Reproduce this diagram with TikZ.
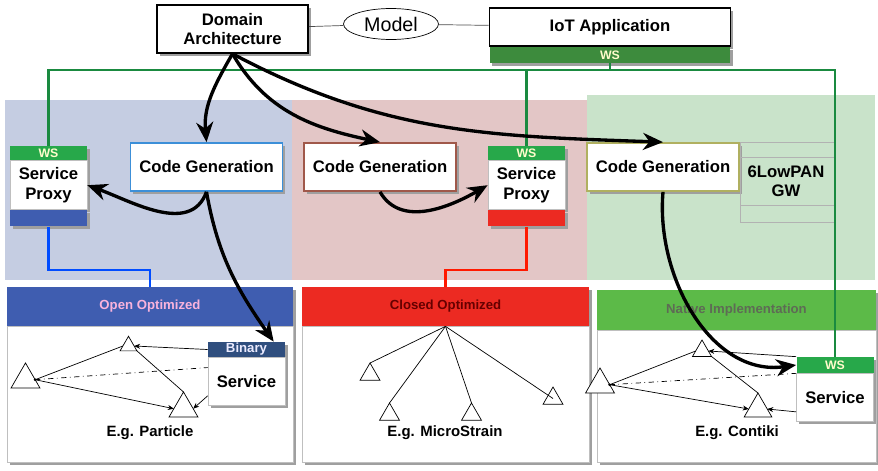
\documentclass[tikz,border=0pt]{standalone}
\usepackage{fontspec}
\setmainfont{Liberation Sans}
\usetikzlibrary{arrows.meta, positioning, shapes.geometric, shadows, calc}

\definecolor{bluebg}{HTML}{C5CDE2}
\definecolor{redbg}{HTML}{E3C6C6}
\definecolor{greenbg}{HTML}{C9E3CA}
\definecolor{openhd}{HTML}{3F5DB0}
\definecolor{closedhd}{HTML}{EC2A22}
\definecolor{nativehd}{HTML}{5CBA48}
\definecolor{nativefg}{HTML}{5E6B55}
\definecolor{wsgreen}{HTML}{27A84A}
\definecolor{iotws}{HTML}{3D8B3D}
\definecolor{busgreen}{HTML}{1A8A40}
\definecolor{binhd}{HTML}{2F4E7E}
\definecolor{cgblue}{HTML}{3C8FD8}
\definecolor{cgred}{HTML}{A0584A}
\definecolor{cgolive}{HTML}{B0B060}

\begin{document}
\begin{tikzpicture}[x=0.02cm, y=0.02cm,
        shd/.style  = {drop shadow={shadow xshift=1.5pt, shadow yshift=-1.5pt, fill=gray!75, opacity=1}},
        box/.style  = {draw, line width=0.9pt, fill=white, align=center, font=\fontsize{9.5}{11}\selectfont\bfseries, shd},
        cg/.style   = {box, line width=1pt, minimum width=3.04cm, minimum height=0.96cm},
        ws/.style   = {fill=wsgreen, text=yellow!20, font=\fontsize{7}{8}\selectfont\bfseries, minimum width=1.54cm, minimum height=0.28cm, inner sep=0pt, shd},
        sp/.style   = {fill=white, draw=gray!50, thin, minimum width=1.54cm, minimum height=0.98cm, align=center, font=\fontsize{9.5}{11}\selectfont\bfseries, shd},
        bar/.style  = {minimum width=1.54cm, minimum height=0.32cm, inner sep=0pt, shd},
        hd/.style   = {minimum height=0.78cm, inner sep=0pt, font=\fontsize{7.5}{9}\selectfont\bfseries, shd},
        pn/.style   = {fill=white, draw=gray!50, minimum height=2.72cm, shd},
        eg/.style   = {font=\fontsize{8.5}{10}\selectfont\bfseries},
        tri/.style  = {regular polygon, regular polygon sides=3, draw, thin, fill=white, inner sep=0pt, outer sep=0pt},
        gwt/.style  = {align=center, font=\fontsize{9.5}{11}\selectfont\bfseries},
        ln/.style   = {thin, -{Stealth[length=1.2mm, width=1mm]}},
        pl/.style   = {thin},
        dd/.style   = {thin, dash dot},
        big/.style  = {line width=1.9pt, -{Stealth[length=4mm, width=3.4mm]}},
        bus/.style  = {busgreen, line width=1.5pt}
    ]
        \useasboundingbox (0,0) rectangle (878,-470);

        \fill[bluebg]  (5,-100)   rectangle (292,-280);
        \fill[redbg]   (292,-100) rectangle (587,-280);
        \fill[greenbg] (587,-95)  rectangle (875,-280);

        \node[box, minimum width=3.02cm, minimum height=0.96cm] (da) at (232.5,-29) {Domain\\Architecture};
        \node[draw, thin, ellipse, minimum width=1.9cm, minimum height=0.62cm, inner sep=0pt, fill=white, font=\fontsize{11.2}{13}\selectfont] (model) at (391,-24) {Model};
        \node[box, minimum width=4.82cm, minimum height=0.76cm] (iot) at (610,-27) {IoT Application};
        \node[ws, fill=iotws, minimum width=4.82cm, minimum height=0.32cm, below=0pt of iot] (iws) {WS};
        \draw[thin, gray!60!black] (da) -- (model) -- (iot);

        \node[ws] (splws) at (48.5,-153) {WS};
        \node[sp, below=0pt of splws] (spl) {Service\\Proxy};
        \node[bar, fill=openhd, below=0pt of spl] (splbar) {};

        \node[ws] (spmws) at (526.5,-153) {WS};
        \node[sp, below=0pt of spmws] (spm) {Service\\Proxy};
        \node[bar, fill=closedhd, below=0pt of spm] (spmbar) {};

        \node[cg, draw=cgblue]  (cgl) at (206.5,-167) {Code Generation};
        \node[cg, draw=cgred]   (cgm) at (380,-167)   {Code Generation};
        \node[cg, draw=cgolive] (cgr) at (663,-167)   {Code Generation};

        \draw[gray!60] (740,-142) rectangle (834,-222);
        \draw[gray!60] (740,-157) -- (834,-157) (740,-205) -- (834,-205);
        \node[gwt, minimum width=1.84cm, minimum height=0.96cm] (gw) at (786,-181) {6LowPAN\\GW};

        \node[hd, fill=openhd, text=magenta!30, minimum width=5.72cm] (ohd) at (150,-306.5) {Open Optimized};
        \node[pn, minimum width=5.72cm, below=0pt of ohd] (opn) {};
        \node[hd, fill=closedhd, text=red!40!black, minimum width=5.74cm] (chd) at (445.5,-306.5) {Closed Optimized};
        \node[pn, minimum width=5.74cm, below=0pt of chd] (cpn) {};
        \node[hd, fill=nativehd, text=nativefg, minimum width=5.58cm, minimum height=0.8cm] (nhd) at (736.5,-310) {Native Implementation};
        \node[pn, minimum width=5.58cm, minimum height=2.64cm, below=0pt of nhd] (npn) {};

        \node[eg] at (150,-433) {E.g. Particle};
        \node[eg] at (445,-433) {E.g. MicroStrain};
        \node[eg] at (737,-433) {E.g. Contiki};

        \node[bar, fill=binhd, text=blue!8, minimum height=0.3cm, font=\fontsize{7.5}{9}\selectfont\bfseries] (bin) at (246.5,-349.5) {Binary};
        \node[sp, minimum height=0.96cm, below=0pt of bin] (lsv) {Service};
        \node[ws, minimum height=0.32cm] (rws) at (835,-365) {WS};
        \node[sp, minimum height=0.96cm, below=0pt of rws] (rsv) {Service};

        \node[tri, minimum size=0.67cm] (lA) at (25.5,-379.7) {};
        \node[tri, minimum size=0.39cm] (lB) at (128.5,-346) {};
        \node[tri, minimum size=0.67cm] (lC) at (183.5,-408.7) {};
        \node[tri, minimum size=0.46cm] (mT1) at (370,-374.5) {};
        \node[tri, minimum size=0.46cm] (mT2) at (389.5,-414.5) {};
        \node[tri, minimum size=0.46cm] (mT3) at (471.5,-414.5) {};
        \node[tri, minimum size=0.46cm] (mT4) at (553,-398.5) {};
        \node[tri, minimum size=0.67cm] (rA) at (600,-384.7) {};
        \node[tri, minimum size=0.44cm] (rB) at (702,-351) {};
        \node[tri, minimum size=0.64cm] (rC) at (758,-409) {};

        \draw[pl] (lA.east) -- (lB.west);
        \draw[ln] (lA.east) -- (lC.west);
        \draw[pl] (lB.corner 3) -- (lC.corner 1);
        \draw[ln] (bin.west) -- (lB.east);
        \draw[ln] (lsv.200) -- (lC.east);
        \draw[dd] (lA.east) -- (lsv.160);
        \fill (lA.east) circle (1.5);

        \foreach \t in {mT1, mT2, mT3}
            \draw[pl] (chd.south) -- (\t.corner 1);
        \draw[pl] (chd.south) -- (mT4.center);

        \draw[pl] (rA.east) -- (rB.west);
        \draw[ln] (rA.east) -- (rC.west);
        \draw[pl] (rB.corner 3) -- (rC.corner 1);
        \draw[ln] (rws.north west) -- (rB.east);
        \draw[ln] (rsv.200) -- (rC.east);
        \draw[dd] (rA.east) -- (rws.south west);
        \fill (rA.east) circle (1.5);

        \coordinate (bus) at (0,-70);
        \draw[bus] (splws.north) -- (splws.north |- bus) -- (rws.north |- bus) -- (rws.north);
        \draw[bus] (iws.south) -- (iws.south |- bus);
        \draw[bus] (spmws.north) -- (spmws.north |- bus);

        \draw[line width=1.3pt, blue!70!cyan] (splbar.south) -- ++(0,-43) -| (ohd.north);
        \draw[line width=1.3pt, red!80!orange] (spmbar.south) -- ++(0,-43) -| (chd.north);

        \draw[big] (da.south) to[out=-120, in=95] (cgl.north);
        \draw[big] (da.south) to[out=-60, in=168] (cgm.north);
        \draw[big] (da.south) to[out=-28, in=178] (cgr.north);
        \draw[big] (cgl.south) to[out=-110, in=-20] (spl.east);
        \draw[big] (cgl.south) to[out=-80, in=125] ($(bin.north)!0.7!(bin.north east)$);
        \draw[big] (cgm.south) to[out=-60, in=-150] (spm.west);
        \draw[big] (cgr.south) to[out=-95, in=-172] (rws.west);
    \end{tikzpicture}
\end{document}
